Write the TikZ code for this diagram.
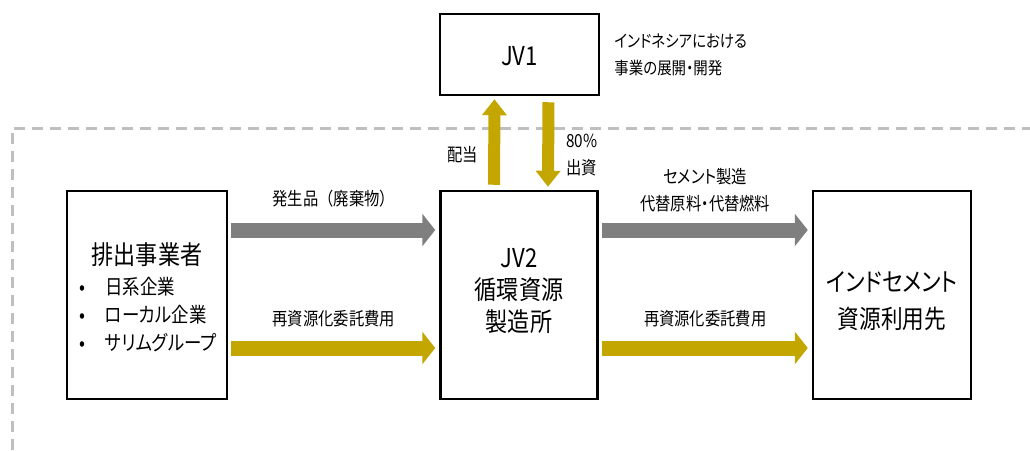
\documentclass[tikz,border=0pt]{standalone}
\usepackage{fontspec}
\setmainfont{Noto Sans CJK JP}[FakeStretch=0.85,RawFeature=+palt]
\usetikzlibrary{arrows.meta,positioning}
\definecolor{flowgray}{HTML}{7F7F7F}
\definecolor{flowgold}{HTML}{C4A600}
\definecolor{framegray}{HTML}{BFBFBF}

\begin{document}
\begin{tikzpicture}[x=1pt,y=-1pt,>=Triangle]
  \tikzset{box/.style={draw,line width=2.5pt,inner sep=0pt},
           boxtext/.style={inner sep=0pt,align=center,font=\fontsize{26}{32}\selectfont},
           lbl/.style={inner sep=0pt,align=center,text=black,font=\fontsize{18}{27}\selectfont},
           flow/.style={line width=15pt,-{Triangle[length=13pt,width=32pt]},shorten <=3pt,shorten >=4pt},
           vflow/.style={draw=flowgold,line width=12pt,-{Triangle[length=16pt,width=24pt]}}}
  \useasboundingbox (0,0) rectangle (1030,450);
  % frame of the Indonesian part
  \draw[framegray,line width=3pt,dash pattern=on 11pt off 7pt] (12,450) -- (12,128) -- (1030,128);

  \node[box,minimum width=160pt,minimum height=208pt] (exh) at (147,295) {};
  \node[boxtext] (exhtitle) at ([yshift=40pt]exh.center) {排出事業者};
  \node[inner sep=0pt,anchor=west,align=left,font=\fontsize{20.5}{28}\selectfont] (exhlist)
    at ([xshift=-68pt,yshift=-20pt]exh.center)
    {\makebox[26pt][l]{•}日系企業\\\makebox[26pt][l]{•}ローカル企業\\\makebox[26pt][l]{•}サリムグループ};
  \node[box,minimum width=157pt,minimum height=208pt] (jv2) at (519,295) {};
  \node[boxtext] (jv2text) at ([yshift=4pt]jv2.center) {JV2\\循環資源\\製造所};
  \node[box,minimum width=158pt,minimum height=208pt] (ind) at (892,295) {};
  \node[boxtext,font=\fontsize{25.5}{37}\selectfont] (indtext) at ([yshift=-6pt]ind.center) {インドセメント\\資源利用先};
  \node[box,minimum width=159pt,minimum height=81pt] (jv1) at (519.5,54.5) {};
  \node[boxtext] (jv1text) at ([yshift=-2pt]jv1.center) {JV1};
  \node[lbl,right=14pt of jv1,align=left,font=\fontsize{17}{27}\selectfont] (jv1note) {インドネシアにおける\\事業の展開・開発};

  \draw[flow,flowgray] ([yshift=65pt]exh.east) -- node[lbl,above=15pt] (waste) {\addfontfeature{RawFeature=-palt}発生品（廃棄物）} ([yshift=65pt]jv2.west);
  \draw[flow,flowgold] ([yshift=-53pt]exh.east) -- node[lbl,above=13pt] (fee1) {再資源化委託費用} ([yshift=-53pt]jv2.west);
  \draw[flow,flowgray] ([yshift=65pt]jv2.east) -- node[lbl,above=10.5pt] (alt) {セメント製造\\代替原料・代替燃料} ([yshift=65pt]ind.west);
  \draw[flow,flowgold] ([yshift=-53pt]jv2.east) -- node[lbl,above=13pt] (fee2) {再資源化委託費用} ([yshift=-53pt]ind.west);

  \draw[vflow,shorten <=5pt,shorten >=3pt] ([xshift=-25pt]jv2.north) -- node[lbl,pos=0.37,left=10pt] (div) {配当} ([xshift=-25pt]jv1.south);
  \draw[vflow,shorten <=6pt,shorten >=3pt] ([xshift=29pt]jv1.south) -- node[lbl,pos=0.63,right=12pt,align=left] (inv) {80\%\\出資} ([xshift=29pt]jv2.north);
\end{tikzpicture}
\end{document}
